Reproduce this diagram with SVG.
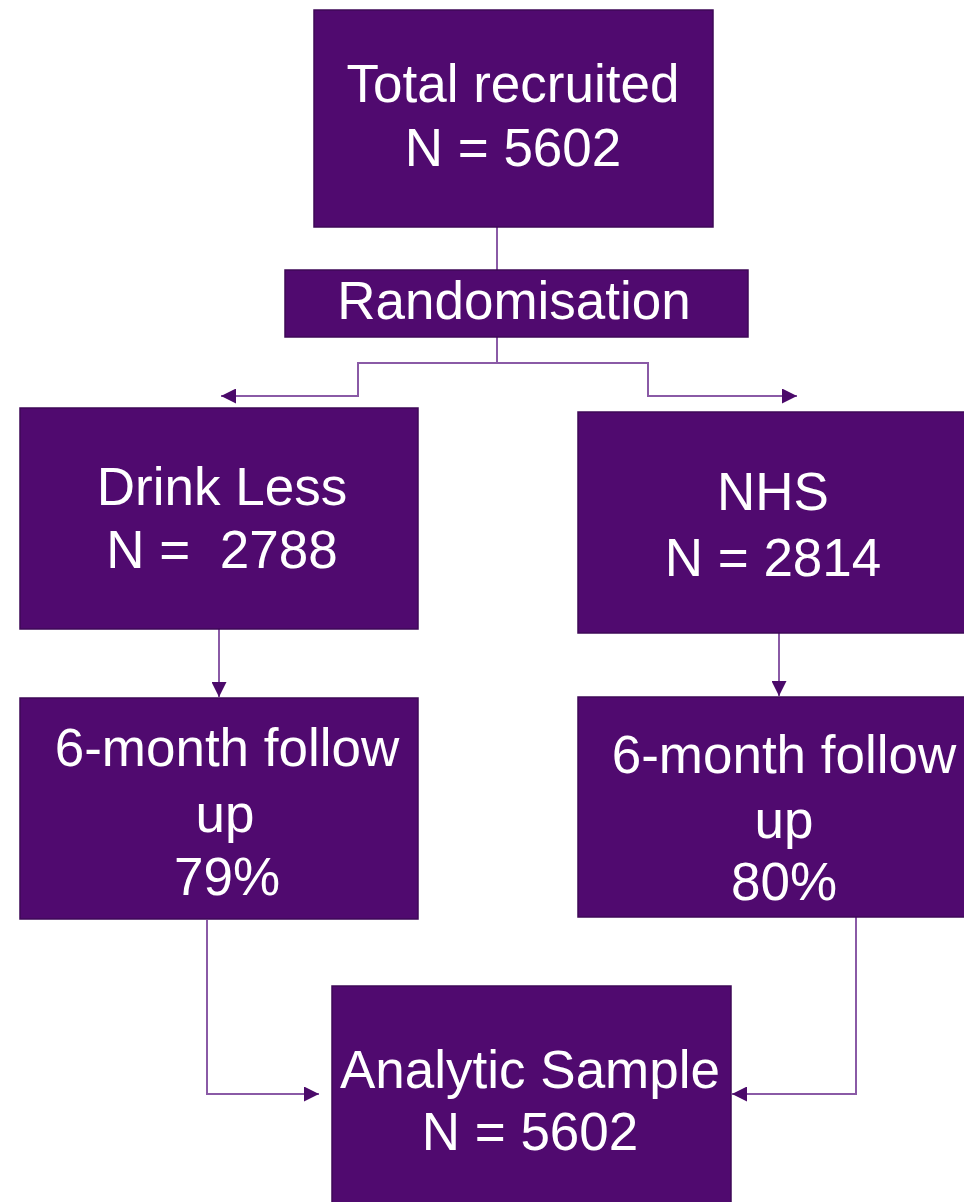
<svg xmlns="http://www.w3.org/2000/svg" width="964" height="1202" viewBox="0 0 964 1202">
<style>
.box{fill:#500a6f;stroke:#3e0857;stroke-width:1.5}
.t{font-family:"Liberation Sans",Arial,sans-serif;font-size:53px;fill:#ffffff;text-anchor:middle}
.c{fill:none;stroke:#8a5aa6;stroke-width:2}
</style>
<defs>
<marker id="ah" viewBox="0 0 10 10" refX="10" refY="5" markerWidth="15" markerHeight="15" markerUnits="userSpaceOnUse" orient="auto">
<path d="M0,0 L10,5 L0,10 Z" fill="#4b0a6a"/>
</marker>
</defs>
<rect width="964" height="1202" fill="#ffffff"/>
<g id="connectors">
<path class="c" d="M497,227 V270"/>
<path class="c" d="M497,337 V363 H358 V396 H221" marker-end="url(#ah)"/>
<path class="c" d="M497,363 H648 V396 H797" marker-end="url(#ah)"/>
<path class="c" d="M219,629 V697" marker-end="url(#ah)"/>
<path class="c" d="M779,633 V696" marker-end="url(#ah)"/>
<path class="c" d="M207,920 V1094 H319" marker-end="url(#ah)"/>
<path class="c" d="M856,917 V1094 H732" marker-end="url(#ah)"/>
</g>
<g id="total">
<rect class="box" x="314" y="10" width="399" height="217"/>
<text class="t" x="513" y="102">Total recruited</text>
<text class="t" x="513" y="166">N = 5602</text>
</g>
<g id="randomisation">
<rect class="box" x="285" y="270" width="463" height="67"/>
<text class="t" x="514" y="319">Randomisation</text>
</g>
<g id="drinkless">
<rect class="box" x="20" y="408" width="398" height="221"/>
<text class="t" x="222" y="505">Drink Less</text>
<text class="t" x="222" y="568" xml:space="preserve">N =  2788</text>
</g>
<g id="nhs">
<rect class="box" x="578" y="412" width="390" height="221"/>
<text class="t" x="773" y="510">NHS</text>
<text class="t" x="773" y="576">N = 2814</text>
</g>
<g id="followup-dl">
<rect class="box" x="20" y="698" width="398" height="221"/>
<text class="t" x="227" y="766">6-month follow</text>
<text class="t" x="225" y="832">up</text>
<text class="t" x="227" y="895">79%</text>
</g>
<g id="followup-nhs">
<rect class="box" x="578" y="697" width="390" height="220"/>
<text class="t" x="784" y="773">6-month follow</text>
<text class="t" x="784" y="838">up</text>
<text class="t" x="784" y="900">80%</text>
</g>
<g id="analytic">
<rect class="box" x="332" y="986" width="399" height="220"/>
<text class="t" x="530" y="1088">Analytic Sample</text>
<text class="t" x="530" y="1150">N = 5602</text>
</g>
</svg>
